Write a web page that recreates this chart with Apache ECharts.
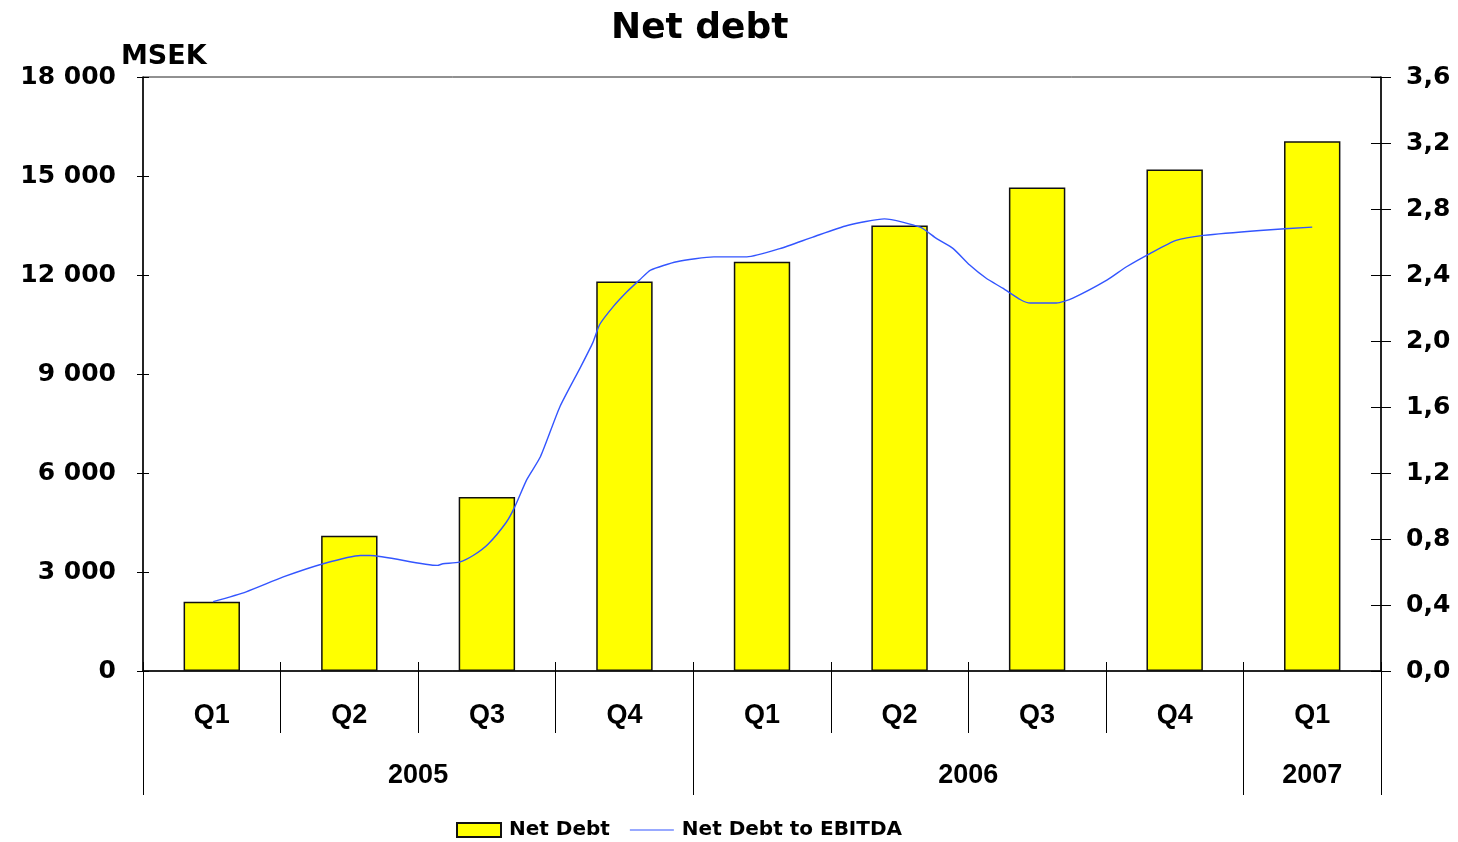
<!DOCTYPE html>
<html>
<head>
<meta charset="utf-8">
<script src="https://cdn.jsdelivr.net/npm/echarts@6/dist/echarts.min.js"></script>
<style>html,body{margin:0;padding:0;background:#fff}#c{width:1458px;height:842px}</style>
</head>
<body>
<div id="c"></div>
<script>
// Quarter categories
var quarters = ['Q1','Q2','Q3','Q4','Q1','Q2','Q3','Q4','Q1'];
// Year axis (half-quarter slots, -0.5 .. 8.5)
var yearSlots = ['','','','','2005','','','','','','','','2006','','','','','2007',''];
var yearTickIdx = [0, 8, 16, 18];
// Net Debt, MSEK
var netDebt = [2100, 4100, 5270, 11800, 12400, 13500, 14650, 15200, 16050];
// Net Debt to EBITDA: positions (in quarter index units) and values
var ratioX = [0.01, 0.25, 0.52, 0.81, 1.08, 1.15, 1.64, 1.68, 1.80, 1.90, 2.01, 2.14, 2.20, 2.29, 2.39, 2.53, 2.68, 2.77, 2.82, 2.92, 3.02, 3.11, 3.19, 3.38, 3.65, 3.89, 4.13, 4.37, 4.62, 4.89, 5.15, 5.27, 5.39, 5.51, 5.63, 5.75, 5.88, 5.95, 6.14, 6.26, 6.51, 6.65, 6.82, 7.01, 7.21, 7.62, 8.0];
var ratioY = [0.42, 0.48, 0.57, 0.65, 0.70, 0.70, 0.64, 0.65, 0.66, 0.70, 0.77, 0.90, 0.99, 1.16, 1.30, 1.60, 1.84, 1.99, 2.10, 2.21, 2.30, 2.37, 2.43, 2.48, 2.51, 2.51, 2.56, 2.63, 2.70, 2.74, 2.69, 2.62, 2.56, 2.46, 2.38, 2.32, 2.25, 2.23, 2.23, 2.26, 2.37, 2.45, 2.53, 2.61, 2.64, 2.67, 2.69];
var leftTicks = {min: 0, max: 18000, interval: 3000};
var rightTicks = {min: 0, max: 3.6, interval: 0.4};

var ratioData = ratioX.map(function (x, i) { return [x, ratioY[i]]; });
var bold = 'bold';
var dv = 'DejaVu Sans';
var ar = 'Liberation Sans';

var chart = echarts.init(document.getElementById('c'));
chart.setOption({
  animation: false,
  backgroundColor: '#fff',
  title: {
    text: 'Net debt', left: 606, top: 6,
    textStyle: {fontFamily: dv, fontWeight: bold, fontSize: 36, color: '#000'}
  },
  graphic: [{
    type: 'text', left: 121, top: 43,
    style: {text: 'MSEK', fontFamily: dv, fontWeight: bold, fontSize: 27, fill: '#000'}
  }],
  legend: {
    left: 451, top: 815, itemWidth: 44, itemHeight: 14, itemGap: 20, symbolKeepAspect: true,
    textStyle: {fontFamily: dv, fontWeight: bold, fontSize: 20, color: '#000', padding: [0, 0, 0, 3]},
    data: [
      {name: 'Net Debt', icon: 'rect'},
      {name: 'Net Debt to EBITDA', icon: 'path://M0,0 L44,0 L44,1.2 L0,1.2 Z', itemStyle: {color: '#3355ff'}}
    ]
  },
  grid: {left: 143, right: 77, top: 77, bottom: 171, show: true, borderColor: '#222', borderWidth: 1},
  xAxis: [
    {
      type: 'category', data: quarters, position: 'bottom', boundaryGap: true,
      axisLine: {onZero: false, lineStyle: {color: '#000', width: 1.5}},
      axisTick: {show: true, length: 62, interval: 0, lineStyle: {color: '#000'}},
      axisLabel: {margin: 31, interval: 0, fontFamily: ar, fontWeight: bold, fontSize: 27, color: '#000'}
    },
    {
      type: 'category', data: yearSlots, position: 'bottom', boundaryGap: false,
      axisLine: {show: false, onZero: false},
      axisTick: {show: true, length: 124, lineStyle: {color: '#000'},
        interval: function (i) { return yearTickIdx.indexOf(i) >= 0; }},
      axisLabel: {margin: 91, fontFamily: ar, fontWeight: bold, fontSize: 27, color: '#000',
        interval: function (i, v) { return v !== ''; }}
    },
    {
      type: 'category', data: quarters, position: 'bottom', boundaryGap: true,
      axisLine: {show: false, onZero: false},
      axisTick: {show: true, inside: true, length: 9, interval: 0, lineStyle: {color: '#000'}},
      axisLabel: {show: false}
    },
    {type: 'value', min: -0.5, max: 8.5, show: false, axisLine: {onZero: false}, splitLine: {show: false}}
  ],
  yAxis: [
    {
      type: 'value', position: 'left', min: leftTicks.min, max: leftTicks.max, interval: leftTicks.interval,
      splitLine: {show: false},
      axisLine: {show: true, onZero: false, lineStyle: {color: '#000', width: 1.5}},
      axisTick: {show: true, length: 6, lineStyle: {color: '#000'}},
      axisLabel: {margin: 27, fontFamily: dv, fontWeight: bold, fontSize: 25, color: '#000',
        formatter: function (v) { return String(Math.round(v)).replace(/\B(?=(\d{3})+(?!\d))/g, ' '); }}
    },
    {
      type: 'value', position: 'right', min: rightTicks.min, max: rightTicks.max, interval: rightTicks.interval,
      splitLine: {show: false},
      axisLine: {show: true, onZero: false, lineStyle: {color: '#000', width: 1.5}},
      axisTick: {show: true, length: 10, lineStyle: {color: '#000'}},
      axisLabel: {margin: 25, fontFamily: dv, fontWeight: bold, fontSize: 25, color: '#000',
        formatter: function (v) { return v.toFixed(1).replace('.', ','); }}
    },
    {
      type: 'value', position: 'left', min: leftTicks.min, max: leftTicks.max, interval: leftTicks.interval,
      splitLine: {show: false}, axisLine: {show: false, onZero: false},
      axisTick: {show: true, inside: true, length: 6, lineStyle: {color: '#000'}},
      axisLabel: {show: false}
    },
    {
      type: 'value', position: 'right', min: rightTicks.min, max: rightTicks.max, interval: rightTicks.interval,
      splitLine: {show: false}, axisLine: {show: false, onZero: false},
      axisTick: {show: true, inside: true, length: 10, lineStyle: {color: '#000'}},
      axisLabel: {show: false}
    }
  ],
  series: [
    {
      name: 'Net Debt', type: 'bar', xAxisIndex: 0, yAxisIndex: 0, data: netDebt,
      barWidth: '41%',
      itemStyle: {color: '#ffff00', borderColor: '#111', borderWidth: 1.5}
    },
    {
      name: 'Net Debt to EBITDA', type: 'line', xAxisIndex: 3, yAxisIndex: 1, data: ratioData,
      symbol: 'none', smooth: 0.2,
      lineStyle: {color: '#3355ff', width: 1.4},
      itemStyle: {color: '#3355ff'}
    }
  ]
});
</script>
</body>
</html>
